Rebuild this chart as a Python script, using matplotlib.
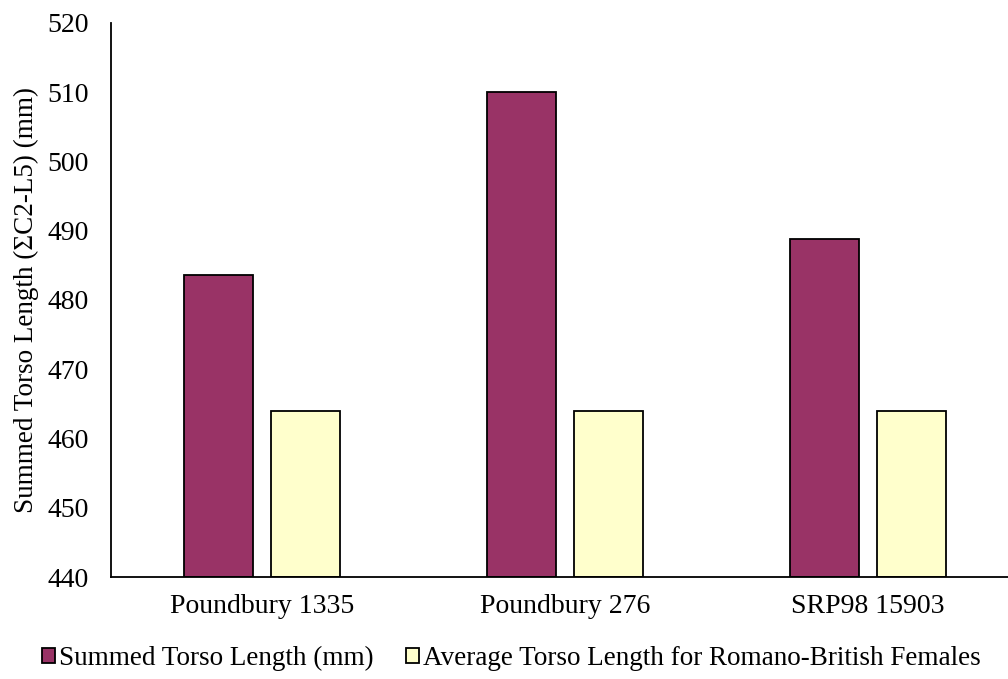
import matplotlib.pyplot as plt
import numpy as np

plt.rcParams["font.family"] = ["Liberation Serif", "DejaVu Serif"]

sites = ["Poundbury 1335", "Poundbury 276", "SRP98 15903"]
summed_torso = [483.6, 510.0, 488.8]
average_rb_female = [464.0, 464.0, 464.0]

fig = plt.figure(figsize=(10.08, 6.79), dpi=100)
# right edge of the plot area runs slightly past the canvas, as in the original export
ax = fig.add_axes([0.110, 0.1502, 0.901, 0.816])

x = np.arange(len(sites))
width = 0.228
gap = 0.059
ax.bar(x - (width + gap) / 2, np.array(summed_torso) - 440, width, bottom=440,
       color="#993366", edgecolor="black", linewidth=1.3,
       label="Summed Torso Length (mm)")
ax.bar(x + (width + gap) / 2, np.array(average_rb_female) - 440, width, bottom=440,
       color="#FFFFCC", edgecolor="black", linewidth=1.3,
       label="Average Torso Length for Romano-British Females")

ax.set_xlim(-0.5, 2.5)
ax.set_ylim(440, 520)
ax.set_yticks(np.arange(440, 521, 10))
ax.set_xticks(x)
ax.set_xticklabels(sites, fontsize=20)
ax.tick_params(axis="y", labelsize=20, length=0, pad=16)
ax.tick_params(axis="x", length=0, pad=12)
ax.set_ylabel("Summed Torso Length (\u03a3C2-L5) (mm)", fontsize=19.5, labelpad=6)

for side in ["top", "right"]:
    ax.spines[side].set_visible(False)
ax.spines["left"].set_linewidth(1.3)
ax.spines["bottom"].set_linewidth(1.3)

ax.legend(loc="center", bbox_to_anchor=(0.507, 0.030), bbox_transform=fig.transFigure,
          ncol=2, frameon=False, fontsize=19.5, handlelength=0.5, handleheight=0.5,
          handletextpad=0.12, columnspacing=1.2, borderaxespad=0)

fig.savefig("out.png", dpi=100)
